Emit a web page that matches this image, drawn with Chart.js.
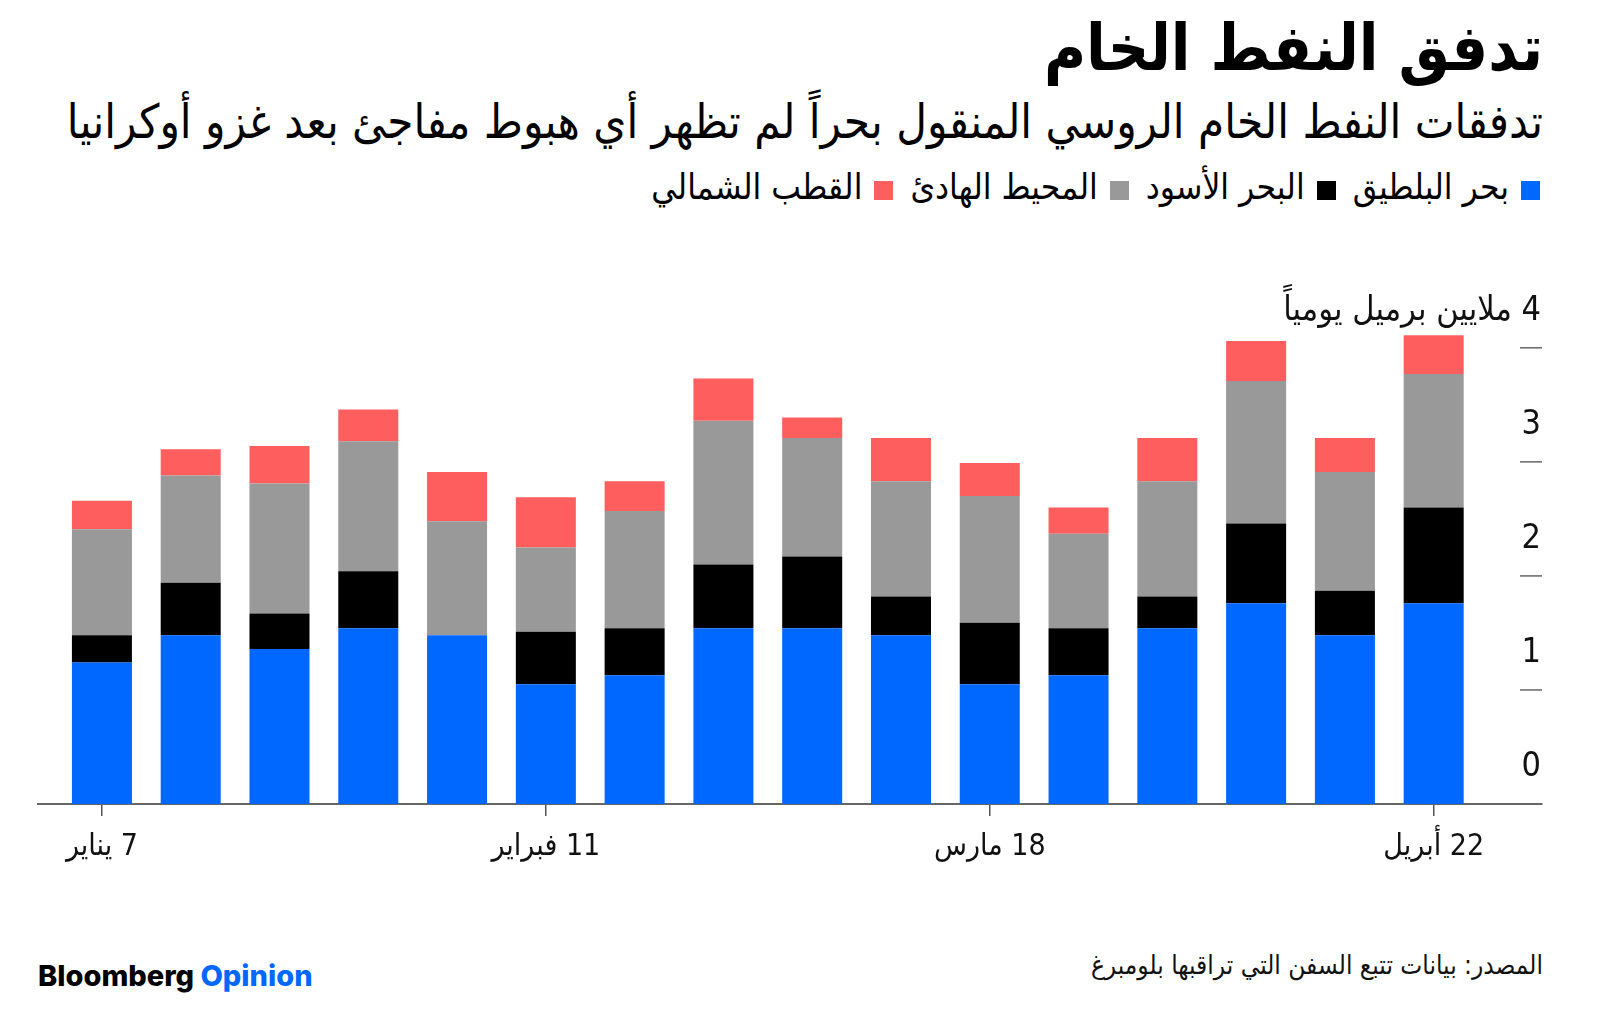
<!DOCTYPE html>
<html>

<head>
  <meta charset="utf-8" />
  <style>
    body { margin: 0; width: 1600px; height: 1015px; position: relative; background: #fff; overflow: hidden;
      font-family: "DejaVu Sans Condensed", "DejaVu Sans", sans-serif; color: #000; }
    .rt { position: absolute; right: 57px; direction: rtl; white-space: nowrap; }
    #title { top: 8px; font-size: 64px; font-weight: bold; line-height: 80px; }
    #subtitle { top: 92px; font-size: 47px; line-height: 60px; }
    #legend { top: 168px; right: 60px; font-size: 35px; line-height: 38px; display: flex; }
    #legend span.sw { display: inline-block; width: 19px; height: 19px; margin-left: 12px; vertical-align: -1px; }
    #legend div { margin-left: 17px; }
    #chartBox { position: absolute; left: 0; top: 240px; width: 1600px; height: 640px; }
    #chartBox canvas { direction: rtl; }
    #source { top: 948px; font-size: 26px; line-height: 34px; color: #111; }
    #brand { position: absolute; left: 38px; top: 959px; font-family: Inter, Roboto, sans-serif; font-weight: 800;
      font-size: 29px; line-height: 34px; }
  </style>
</head>

<script src="https://cdn.jsdelivr.net/npm/chart.js"></script>

<body>

  <div id="title" class="rt">تدفق النفط الخام</div>
  <div id="subtitle" class="rt">تدفقات النفط الخام الروسي المنقول بحراً لم تظهر أي هبوط مفاجئ بعد غزو أوكرانيا</div>
  <div id="legend" class="rt"></div>

  <div id="chartBox"><canvas id="oilChart" width="1600" height="640"></canvas></div>

  <div id="source" class="rt">المصدر: بيانات تتبع السفن التي تراقبها بلومبرغ</div>
  <div id="brand">Bloomberg <span style="color:#0068ff">Opinion</span></div>

  <script>
    // weekly data, million barrels a day
    var weeks = ['7 يناير', '14 يناير', '21 يناير', '28 يناير', '4 فبراير', '11 فبراير', '18 فبراير', '25 فبراير',
      '4 مارس', '11 مارس', '18 مارس', '25 مارس', '1 أبريل', '8 أبريل', '15 أبريل', '22 أبريل'];
    var baltic = [1.24, 1.48, 1.36, 1.54, 1.48, 1.05, 1.13, 1.54, 1.54, 1.48, 1.05, 1.13, 1.54, 1.76, 1.48, 1.76];
    var blackSea = [0.24, 0.46, 0.31, 0.50, 0, 0.46, 0.41, 0.56, 0.63, 0.34, 0.54, 0.41, 0.28, 0.70, 0.39, 0.84];
    var pacific = [0.93, 0.94, 1.14, 1.14, 1.00, 0.74, 1.03, 1.26, 1.04, 1.01, 1.11, 0.83, 1.01, 1.25, 1.04, 1.17];
    var arctic = [0.25, 0.23, 0.33, 0.28, 0.43, 0.44, 0.26, 0.37, 0.18, 0.38, 0.29, 0.23, 0.38, 0.35, 0.30, 0.34];

    var seriesNames = ['بحر البلطيق', 'البحر الأسود', 'المحيط الهادئ', 'القطب الشمالي'];
    var seriesColors = ['#0068ff', '#000000', '#999999', '#ff5e5e'];
    var tickIndexes = [0, 5, 10, 15];
    var yTicks = [0, 1, 2, 3, 4];
    var yTickLabels = ['0', '1', '2', '3', '4 ملايين برميل يومياً'];

    var fontFamily = '"DejaVu Sans Condensed", "DejaVu Sans", sans-serif';
    Chart.defaults.font.family = fontFamily;

    // legend in html
    var legend = document.getElementById('legend');
    seriesNames.forEach(function (name, i) {
      var item = document.createElement('div');
      item.innerHTML = '<span class="sw" style="background:' + seriesColors[i] + '"></span>' + name;
      legend.appendChild(item);
    });

    var allSeries = [baltic, blackSea, pacific, arctic];

    // right side ticks + labels sitting above each tick
    var yAxisMarks = {
      id: 'yAxisMarks',
      afterDraw: function (chart) {
        var ctx = chart.ctx;
        var y = chart.scales.y;
        var right = chart.chartArea.right;
        ctx.save();
        ctx.strokeStyle = '#666';
        ctx.lineWidth = 1.5;
        ctx.fillStyle = '#111';
        ctx.font = '34px ' + fontFamily;
        ctx.textAlign = 'right';
        ctx.textBaseline = 'middle';
        ctx.direction = 'rtl';
        yTicks.forEach(function (v, i) {
          var py = y.getPixelForValue(v);
          if (v > 0) {
            ctx.beginPath();
            ctx.moveTo(right - 22, py);
            ctx.lineTo(right, py);
            ctx.stroke();
          }
          ctx.fillText(yTickLabels[i], right - 1, py - 37);
        });
        ctx.restore();
      }
    };

    const ctx = document.getElementById('oilChart');
    new Chart(ctx, {
      type: 'bar',
      data: {
        datasets: allSeries.map(function (vals, s) {
          return {
            label: seriesNames[s],
            backgroundColor: seriesColors[s],
            borderWidth: 0,
            categoryPercentage: 1,
            barPercentage: 0.676,
            data: vals.map(function (v, i) { return { x: i, y: v }; })
          };
        })
      },
      options: {
        responsive: false,
        animation: false,
        layout: { padding: { left: 38, right: 58, top: 85, bottom: 0 } },
        plugins: { legend: { display: false }, tooltip: { enabled: false } },
        scales: {
          x: {
            type: 'linear',
            stacked: true,
            offset: false,
            min: -0.72,
            max: 16.22,
            afterBuildTicks: function (scale) {
              scale.ticks = tickIndexes.map(function (v) { return { value: v }; });
            },
            afterFit: function (scale) { scale.height = 76; },
            grid: { display: true, offset: false, drawOnChartArea: false, drawTicks: true, tickLength: 12, tickColor: '#555', lineWidth: 1.5 },
            border: { display: true, color: '#666', width: 2 },
            ticks: {
              autoSkip: false,
              maxRotation: 0,
              padding: 13,
              color: '#111',
              font: { size: 30 },
              callback: function (v) { return weeks[v]; }
            }
          },
          y: {
            display: false,
            stacked: true,
            min: 0,
            max: 4.2
          }
        }
      },
      plugins: [yAxisMarks]
    });
  </script>

</body>

</html>
